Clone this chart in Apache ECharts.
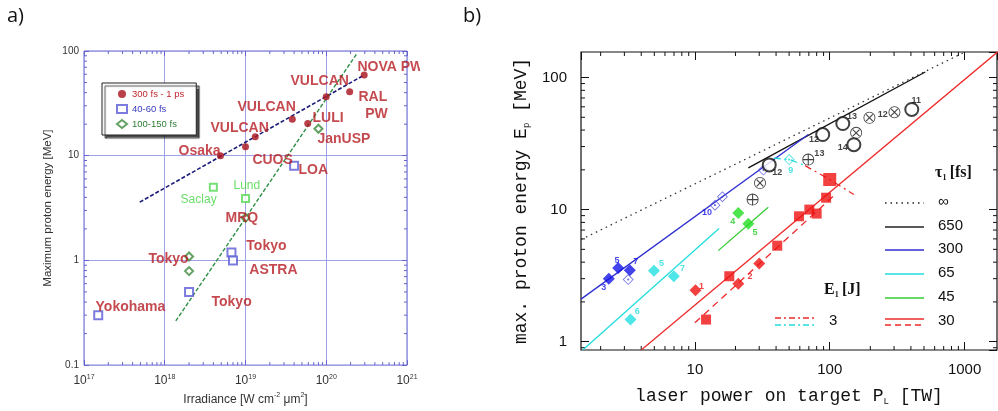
<!DOCTYPE html>
<html>
<head>
<meta charset="utf-8">
<script src="https://cdn.jsdelivr.net/npm/echarts@6/dist/echarts.min.js"></script>
<style>
  html, body { margin: 0; padding: 0; background: #fff; }
  #chart { width: 998px; height: 411px; }
</style>
</head>
<body>
<div id="chart"></div>
<script>
// ---- panel a) : irradiance vs. maximum proton energy ----
const longPulse = [[4.9e18, 10], [1e19, 12.2], [1.32e19, 15.2], [3.8e19, 22.3], [5.9e19, 20.3], [1e20, 36.5], [1.95e20, 40.8], [2.95e20, 59]];
const shortPulse = [[1.5e17, 0.30], [2e18, 0.50], [6.7e18, 1.19], [7e18, 1.0], [4e19, 8.0]];
const shortPulseLight = [[4e18, 5.0], [1e19, 3.9]];
const midPulse = [[2e18, 1.09], [2e18, 0.79], [1e19, 2.55], [8e19, 18.1]];
const fitLong = [[4.9e17, 3.6], [2.95e20, 59]];
const fitShort = [[1.37e18, 0.264], [2.38e20, 94]];
const siteLabels = [
  ['NOVA PW', 2.4e20, 70.7], ['VULCAN', 3.56e19, 51], ['RAL', 2.47e20, 36], ['PW', 3.0e20, 24.9],
  ['VULCAN', 7.85e18, 29], ['LULI', 6.67e19, 22.8], ['VULCAN', 3.63e18, 18.4], ['JanUSP', 7.67e19, 14.5],
  ['Osaka', 1.46e18, 11.1], ['CUOS', 1.2e19, 8.98], ['LOA', 4.47e19, 7.22], ['MRQ', 5.57e18, 2.55],
  ['Tokyo', 1.01e19, 1.36], ['Tokyo', 6.2e17, 1.02], ['ASTRA', 1.1e19, 0.805], ['Tokyo', 3.74e18, 0.402],
  ['Yokohama', 1.37e17, 0.36]
];
const lightLabels = [['Lund', 7e18, 5.2], ['Saclay', 1.55e18, 3.76]];
const decadesA_x = [1e17, 1e18, 1e19, 1e20];
const decadesA_y = [0.1, 1, 10];

// ---- panel b) : laser power vs. max proton energy ----
const tauInf = [[1.43, 5.93], [980, 154]];
const tau650 = [[24.9, 20.7], [511, 110]];
const tau300 = [[1.43, 2.1], [69.4, 37]];
const tau65 = [[1.48, 0.87], [15.1, 7.2]];
const tau45 = [[14.9, 4.89], [35, 10.4]];
const tau30 = [[4.02, 0.87], [1780, 158]];
const tau30dash = [[10, 1.39], [106, 12.6]];
const e3red = [[65.6, 21.5], [100, 16.9], [151, 13]];
const e3cyan = [[38.5, 24.5], [50, 24], [66, 21.5]];

const blueFilled = [[2.30, 2.99], [2.70, 3.61], [3.29, 3.47]];
const blueOpen = [[3.2, 2.95], [14.1, 10.8], [16.0, 12.5], [32.2, 19.9]];
const cyanFilled = [[4.97, 3.45], [6.98, 3.13], [3.33, 1.47]];
const cyanOpen = [[50, 23.9]];
const greenFilled = [[21.0, 9.44], [24.9, 7.83]];
const redDiamond = [[10.1, 2.45], [21, 2.75], [30, 3.9]];
const redSquare = [[12.1, 1.47], [18, 3.13], [40.8, 5.33], [59.2, 8.9], [70.6, 10], [80, 9.33], [94, 12.3]];
const redSquareBig = [[100, 16.9]];
const blackPlus = [[26.8, 11.9], [69.3, 23.9]];
const blackCross = [[30.4, 15.9], [157, 38.1], [197, 49.6], [302, 54.6]];
const blackCircle = [[35.6, 21.8], [88.7, 37], [125, 44.8], [151, 31], [406, 57.3]];

const numBlue = [['3', 2.11, 2.55], ['5', 2.65, 4.13], ['7', 3.65, 4.06], ['10', 12.3, 9.55]];
const numCyan = [['5', 5.66, 3.94], ['7', 8.11, 3.55], ['6', 3.73, 1.70], ['9', 51.3, 19.7]];
const numGreen = [['4', 19.1, 8.15], ['5', 27.9, 6.73]];
const numRed = [['1', 11.2, 2.62], ['2', 25.6, 3.13]];
const numBlack = [['12', 40.8, 19.2], ['13', 83.8, 26.4], ['12', 76.4, 33.9], ['13', 146, 50.4],
  ['14', 125, 29.3], ['12', 247, 52.5], ['11', 438, 67.3]];
const decadesB_x = [1, 10, 100, 1000];
const decadesB_y = [0.1, 1, 10, 100];

const tauNames = ['∞', '650', '300', '65', '45', '30'];
const minorSteps = [2, 3, 4, 5, 6, 7, 8, 9];

const chart = echarts.init(document.getElementById('chart'));

const blueA = '#6464cc';
const redA = '#b51d24';
const sans = 'Liberation Sans';
const mono = 'Liberation Mono';

const ring = 'M10,0A10,10,0,1,1,-10,0A10,10,0,1,1,10,0Z M8.6,0A8.6,8.6,0,1,0,-8.6,0A8.6,8.6,0,1,0,8.6,0Z';
const plusPath = 'path://' + ring + ' M-8.5,-0.9L8.5,-0.9L8.5,0.9L-8.5,0.9Z M-0.9,-8.5L0.9,-8.5L0.9,8.5L-0.9,8.5Z';
const crossPath = 'path://' + ring + ' M-6.2,-4.9L-4.9,-6.2L6.2,4.9L4.9,6.2Z M4.9,-6.2L6.2,-4.9L-4.9,6.2L-6.2,4.9Z';
const dotDiamond = 'path://M0,-10L10,0L0,10L-10,0Z M0,-7.8L-7.8,0L0,7.8L7.8,0Z M-2,0A2,2,0,1,0,2,0A2,2,0,1,0,-2,0Z';

function isPow10(v) {
  const l = Math.log10(v);
  return Math.abs(l - Math.round(l)) < 1e-6;
}

// minor tick values (2..9 of every decade) inside [lo, hi]
function minorValues(decades, lo, hi) {
  const out = [];
  decades.forEach(d => minorSteps.forEach(s => {
    const v = d * s;
    if (v > lo && v < hi) out.push(v);
  }));
  return out;
}

function logAxis(grid, pos, min, max, color, opts) {
  const main = pos === 'bottom' || pos === 'left';
  return Object.assign({
    gridIndex: grid, type: 'log', position: pos, min: min, max: max,
    axisLine: { show: false },
    axisTick: { show: true, inside: true, length: opts.major, lineStyle: { color: color } },
    splitLine: { show: main && !!opts.split, lineStyle: { color: opts.split || color } },
    axisLabel: { show: false }
  }, main ? opts.extra : {});
}

// minor ticks on both opposite sides, placed through the axis scale
function minorTickSeries(xi, yi, vals, dir, refOther, color, len) {
  return {
    type: 'custom', xAxisIndex: xi, yAxisIndex: yi, silent: true, clip: false, z: 3,
    data: vals.map(v => dir === 'x' ? [v, refOther] : [refOther, v]),
    renderItem: function (params, api) {
      const cs = params.coordSys;
      const p = api.coord([api.value(0), api.value(1)]);
      const st = { stroke: color, lineWidth: 1 };
      if (dir === 'x') {
        const b = cs.y + cs.height;
        return { type: 'group', children: [
          { type: 'line', shape: { x1: p[0], y1: b, x2: p[0], y2: b - len }, style: st },
          { type: 'line', shape: { x1: p[0], y1: cs.y, x2: p[0], y2: cs.y + len }, style: st }
        ] };
      }
      const r = cs.x + cs.width;
      return { type: 'group', children: [
        { type: 'line', shape: { x1: cs.x, y1: p[1], x2: cs.x + len, y2: p[1] }, style: st },
        { type: 'line', shape: { x1: r, y1: p[1], x2: r - len, y2: p[1] }, style: st }
      ] };
    }
  };
}

function labelSeries(list, xi, yi, style) {
  return {
    type: 'scatter', xAxisIndex: xi, yAxisIndex: yi, silent: true,
    symbolSize: 1, itemStyle: { color: 'transparent' },
    data: list.map(d => ({ name: d[0], value: [d[1], d[2]] })),
    label: Object.assign({ show: true, formatter: '{b}' }, style),
    z: 5
  };
}

function lineSeries(data, color, type, width) {
  return {
    type: 'line', xAxisIndex: 2, yAxisIndex: 2, data: data, symbol: 'none', silent: true,
    lineStyle: { color: color, width: width || 1.3, type: type || 'solid' }
  };
}

function markSeries(data, symbol, size, color, extra) {
  return Object.assign({
    type: 'scatter', xAxisIndex: 2, yAxisIndex: 2, data: data, symbol: symbol, symbolSize: size,
    itemStyle: { color: color }, silent: true, z: 4
  }, extra || {});
}

const numStyle = c => ({ position: 'inside', color: c, fontSize: 9, fontWeight: 'bold', fontFamily: sans });

const option = {
  animation: false,
  backgroundColor: '#fff',
  grid: [
    { left: 84, top: 51, width: 323, height: 318, show: true, borderColor: blueA, borderWidth: 1 },
    { left: 581, top: 52, width: 416, height: 298, show: true, borderColor: '#111', borderWidth: 1.2 }
  ],
  xAxis: [
    logAxis(0, 'bottom', 1e17, 1e21, blueA, { major: 5, split: '#a0a0e6', extra: {
      name: 'Irradiance [W cm{s|-2} μm{s|2}]', nameLocation: 'middle', nameGap: 20,
      nameTextStyle: { fontFamily: sans, fontSize: 12, color: '#333', rich: { s: { fontSize: 7, padding: [0, 0, 9, 0], fontFamily: sans, color: '#333' } } },
      axisLabel: {
        show: true, margin: 8, color: '#333', fontFamily: sans, fontSize: 12,
        formatter: v => '10{s|' + Math.round(Math.log10(v)) + '}',
        rich: { s: { fontSize: 7, padding: [0, 0, 9, 0], fontFamily: sans, color: '#333' } }
      }
    } }),
    logAxis(0, 'top', 1e17, 1e21, blueA, { major: 5 }),
    logAxis(1, 'bottom', 1.43, 1740, '#111', { major: 8, extra: {
      name: 'laser power on target P{sub|L} [TW]', nameLocation: 'middle', nameGap: 37,
      nameTextStyle: { fontFamily: mono, fontSize: 18, color: '#111', rich: { sub: { fontFamily: mono, fontSize: 9, padding: [10, 0, 0, 0], color: '#111' } } },
      axisLabel: {
        show: true, margin: 12, color: '#111', fontFamily: sans, fontSize: 15,
        showMinLabel: false, showMaxLabel: false,
        formatter: v => isPow10(v) ? String(Math.round(v)) : ''
      }
    } }),
    logAxis(1, 'top', 1.43, 1740, '#111', { major: 8 })
  ],
  yAxis: [
    logAxis(0, 'left', 0.1, 100, blueA, { major: 5, split: '#a0a0e6', extra: {
      name: 'Maximum proton energy [MeV]', nameLocation: 'middle', nameGap: 30,
      nameTextStyle: { fontFamily: sans, fontSize: 11.5, color: '#333' },
      axisLabel: {
        show: true, margin: 5, color: '#333', fontFamily: sans, fontSize: 10,
        formatter: v => v >= 1 ? String(Math.round(v)) : String(+v.toPrecision(1))
      }
    } }),
    logAxis(0, 'right', 0.1, 100, blueA, { major: 5 }),
    logAxis(1, 'left', 0.865, 156, '#111', { major: 8, extra: {
      name: 'max. proton energy E{sub|p} [MeV]', nameLocation: 'middle', nameGap: 50,
      nameTextStyle: { fontFamily: mono, fontSize: 18, color: '#111', rich: { sub: { fontFamily: mono, fontSize: 9, padding: [10, 0, 0, 0], color: '#111' } } },
      axisLabel: {
        show: true, margin: 14, color: '#111', fontFamily: sans, fontSize: 15,
        showMinLabel: false, showMaxLabel: false,
        formatter: v => isPow10(v) ? String(Math.round(v)) : ''
      }
    } }),
    logAxis(1, 'right', 0.865, 156, '#111', { major: 8 })
  ],
  legend: {
    left: 102, top: 83, orient: 'vertical', selectedMode: false,
    itemWidth: 10, itemHeight: 8, itemGap: 5, padding: [6, 12, 6, 14],
    backgroundColor: '#fff', borderColor: '#222', borderWidth: 1,
    shadowColor: 'rgba(0,0,0,0.7)', shadowOffsetX: 3, shadowOffsetY: 3, shadowBlur: 1,
    textStyle: { fontSize: 9.5, fontFamily: sans },
    data: [
      { name: '300 fs - 1 ps', textStyle: { color: '#c0272d' } },
      { name: '40-60 fs', textStyle: { color: '#3a3ac0' } },
      { name: '100-150 fs', textStyle: { color: '#2e7d32' } }
    ]
  },
  graphic: [
    { type: 'rect', left: 420, top: 30, shape: { width: 40, height: 375 }, style: { fill: '#fff' }, z: 100 },
    { type: 'text', left: 7, top: 6, style: { text: 'a)', font: '20px "Open Sans"', fill: '#111' }, z: 101 },
    { type: 'text', left: 463, top: 6, style: { text: 'b)', font: '20px "Open Sans"', fill: '#111' }, z: 101 },
    // right-panel key
    { type: 'text', left: 935, top: 165, style: { text: '{t|τ}{s|1} {t|[fs]}', rich: {
      t: { font: 'bold 16px "Liberation Serif"', fill: '#111' },
      s: { font: 'bold 8px "Liberation Serif"', fill: '#111', padding: [10, 0, 0, 0] } } }, z: 101 },
    { type: 'text', left: 824, top: 282, style: { text: '{t|E}{s|1} {t|[J]}', rich: {
      t: { font: 'bold 16px "Liberation Serif"', fill: '#111' },
      s: { font: 'bold 8px "Liberation Serif"', fill: '#111', padding: [10, 0, 0, 0] } } }, z: 101 },
    { type: 'line', shape: { x1: 885, y1: 203, x2: 924, y2: 203 }, style: { stroke: '#222', lineWidth: 1.3, lineDash: [1.5, 4] } },
    { type: 'line', shape: { x1: 885, y1: 227, x2: 924, y2: 227 }, style: { stroke: '#222', lineWidth: 1.3 } },
    { type: 'line', shape: { x1: 885, y1: 250, x2: 924, y2: 250 }, style: { stroke: '#2f2fd0', lineWidth: 1.3 } },
    { type: 'line', shape: { x1: 885, y1: 274, x2: 924, y2: 274 }, style: { stroke: '#22dddd', lineWidth: 1.3 } },
    { type: 'line', shape: { x1: 885, y1: 298, x2: 924, y2: 298 }, style: { stroke: '#33cc33', lineWidth: 1.3 } },
    { type: 'line', shape: { x1: 885, y1: 319, x2: 924, y2: 319 }, style: { stroke: '#ee2a2a', lineWidth: 1.3 } },
    { type: 'line', shape: { x1: 885, y1: 325, x2: 924, y2: 325 }, style: { stroke: '#ee2a2a', lineWidth: 1.3, lineDash: [6, 4] } },
    { type: 'line', shape: { x1: 775, y1: 318, x2: 815, y2: 318 }, style: { stroke: '#ee2a2a', lineWidth: 1.3, lineDash: [6, 3, 2, 3] } },
    { type: 'line', shape: { x1: 775, y1: 325, x2: 815, y2: 325 }, style: { stroke: '#22dddd', lineWidth: 1.3, lineDash: [6, 3, 2, 3] } },
    { type: 'text', left: 829, top: 313, style: { text: '3', font: '15px "Liberation Sans"', fill: '#111' } }
  ].concat(tauNames.map((t, i) => ({
    type: 'text', left: 938, top: [203, 227, 250, 274, 298, 322][i] - 9,
    style: { text: t, font: '15px "Liberation Sans"', fill: '#111' }
  }))),
  series: [
    // panel a minor ticks
    minorTickSeries(0, 0, minorValues(decadesA_x, 1e17, 1e21), 'x', 1, blueA, 3),
    minorTickSeries(0, 0, minorValues(decadesA_y, 0.1, 100), 'y', 1e19, blueA, 3),
    // panel a data
    { type: 'line', xAxisIndex: 0, yAxisIndex: 0, data: fitLong, symbol: 'none', silent: true,
      lineStyle: { color: '#1c1c7a', width: 1.6, type: [4, 2] } },
    { type: 'line', xAxisIndex: 0, yAxisIndex: 0, data: fitShort, symbol: 'none', silent: true,
      lineStyle: { color: '#2f8f45', width: 1.4, type: [4, 2] } },
    { name: '300 fs - 1 ps', type: 'scatter', xAxisIndex: 0, yAxisIndex: 0, data: longPulse,
      symbol: 'circle', symbolSize: 7, itemStyle: { color: '#a8101a' }, z: 4 },
    { name: '40-60 fs', type: 'scatter', xAxisIndex: 0, yAxisIndex: 0, data: shortPulse,
      symbol: 'emptyRect', symbolSize: 8, itemStyle: { color: '#5b5bd6', borderWidth: 1 }, z: 4 },
    { type: 'scatter', xAxisIndex: 0, yAxisIndex: 0, data: shortPulseLight,
      symbol: 'emptyRect', symbolSize: 7, itemStyle: { color: '#55d855', borderWidth: 1 }, z: 4 },
    { name: '100-150 fs', type: 'scatter', xAxisIndex: 0, yAxisIndex: 0, data: midPulse,
      symbol: 'emptyDiamond', symbolSize: 8, itemStyle: { color: '#3d8b3d', borderWidth: 1 }, z: 4 },
    labelSeries(siteLabels, 0, 0, { position: 'right', distance: 0, color: redA, fontSize: 14, fontWeight: 'bold', fontFamily: sans }),
    labelSeries(lightLabels, 0, 0, { position: 'right', distance: 0, color: '#44d444', fontSize: 12, fontFamily: sans }),
    // panel b minor ticks
    minorTickSeries(2, 2, minorValues(decadesB_x, 1.43, 1740), 'x', 10, '#111', 4),
    minorTickSeries(2, 2, minorValues(decadesB_y, 0.865, 156), 'y', 10, '#111', 4),
    // panel b lines
    lineSeries(tauInf, '#333', [1.5, 4], 1.3),
    lineSeries(tau650, '#111'),
    lineSeries(tau300, '#2f2fd0'),
    lineSeries(tau65, '#22dddd'),
    lineSeries(tau45, '#33cc33'),
    lineSeries(tau30, '#ee2a2a'),
    lineSeries(tau30dash, '#ee2a2a', [7, 5]),
    lineSeries(e3red, '#ee2a2a', [7, 4, 2, 4]),
    lineSeries(e3cyan, '#22dddd', [7, 4, 2, 4]),
    // panel b markers
    markSeries(blueFilled, 'diamond', 12, '#1414e6'),
    markSeries(blueOpen, dotDiamond, 11, '#5050e0'),
    markSeries(cyanFilled, 'diamond', 12, '#22e0e0'),
    markSeries(cyanOpen, dotDiamond, 11, '#22dddd'),
    markSeries(greenFilled, 'diamond', 12, '#22dd22'),
    markSeries(redDiamond, 'diamond', 12, '#ee1111'),
    markSeries(redSquare, 'rect', 10, '#ee1111'),
    markSeries(redSquareBig, 'rect', 13, '#ee1111'),
    markSeries(blackPlus, plusPath, 12, '#111'),
    markSeries(blackCross, crossPath, 12, '#111'),
    markSeries(blackCircle, 'emptyCircle', 13, '#111', { itemStyle: { color: '#111', borderWidth: 1 } }),
    labelSeries(numBlue, 2, 2, numStyle('#1414e6')),
    labelSeries(numCyan, 2, 2, numStyle('#22dddd')),
    labelSeries(numGreen, 2, 2, numStyle('#22cc22')),
    labelSeries(numRed, 2, 2, numStyle('#ee1111')),
    labelSeries(numBlack, 2, 2, numStyle('#111'))
  ]
};

chart.setOption(option);
</script>
</body>
</html>
